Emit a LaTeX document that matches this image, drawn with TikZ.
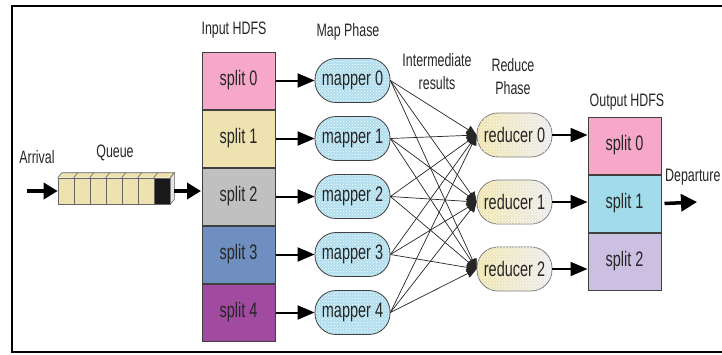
\documentclass[tikz,border=0pt]{standalone}
\usepackage{fontspec}
\setmainfont[FakeStretch=0.69]{Liberation Sans}
\usetikzlibrary{arrows.meta,patterns,positioning,calc}
\definecolor{pinkblk}{HTML}{F7A8C8}
\definecolor{beigeblk}{HTML}{EDE2B0}
\definecolor{grayblk}{HTML}{C0C0C0}
\definecolor{blueblk}{HTML}{6E8FBF}
\definecolor{purpleblk}{HTML}{A04AA0}
\definecolor{cyanblk}{HTML}{A2DCEA}
\definecolor{lilacblk}{HTML}{CBBFE2}
\definecolor{mapfill}{HTML}{B0DEEE}
\definecolor{redfill}{HTML}{F0E4AC}
\definecolor{edgegray}{HTML}{404040}
\definecolor{txtgray}{HTML}{262626}
\tikzset{
  splitbox/.style={draw=edgegray, line width=1pt, minimum width=73pt, minimum height=57pt,
    inner sep=0pt, text=txtgray, font=\fontsize{21}{23}\selectfont},
  mapbox/.style={draw=edgegray, line width=0.8pt, rounded corners=21pt, minimum width=75pt,
    minimum height=44pt, inner sep=0pt, text=txtgray, font=\fontsize{21}{23}\selectfont,
    preaction={fill=mapfill}, pattern=crosshatch dots, pattern color=white},
  redbox/.style={draw=edgegray!70, line width=0.8pt, rounded corners=21pt, minimum width=75pt,
    minimum height=44pt, inner sep=0pt, text=txtgray, font=\fontsize{21}{23}\selectfont,
    left color=redfill, right color=gray!15, postaction={pattern=crosshatch dots, pattern color=white}},
  cell/.style={draw=edgegray!80, line width=0.6pt, fill=beigeblk, minimum width=16pt,
    minimum height=26pt, inner sep=0pt},
  head/.style={font=\fontsize{18}{23}\selectfont, text=txtgray, align=center, inner sep=0pt},
  bigarrow/.style={line width=2pt, -{Triangle[length=17pt,width=14pt]}},
  fatarrow/.style={line width=3.5pt, -{Triangle[length=14pt,width=16pt]}},
  midline/.style={line width=0.7pt, draw=black!85, -{Triangle[length=10pt,width=9pt]}}
}
\begin{document}
\begin{tikzpicture}[x=1pt, y=-1pt]
  \clip (0,0) rectangle (722,354);
  \useasboundingbox (0,0) rectangle (722,354);
  \fill[white] (0,0) rectangle (722,354);
  % frame
  \draw[line width=1.5pt] (12,6) rectangle (740,352);

  % queue
  \foreach \i in {1,...,6}
    \node[cell] (q\i) at ({50+16*\i},191) {};
  \node[cell, fill=black!90] (q7) at (162,191) {};
  \foreach \i in {1,...,7}
    \draw[edgegray!80, line width=0.6pt, fill=beigeblk]
      (q\i.north west) -- ++(4,-5) -- ($(q\i.north east)+(4,-5)$) -- (q\i.north east);
  \draw[edgegray!80, line width=0.6pt, fill=gray!20]
    (q7.north east) -- ++(4,-5) -- ($(q7.south east)+(4,-5)$) -- (q7.south east) -- cycle;
  \node[head] (arrlbl) at (37,157) {Arrival};
  \node[head] (qlbl) at (115,153) {Queue};
  \coordinate (arr) at (27,191);
  \coordinate (qout) at (201,191);
  \draw[fatarrow] (arr) -- (q1.west);
  \draw[fatarrow] ([xshift=4pt]q7.east) -- (qout);

  % input HDFS
  \node[head] (inlbl) at (234,30) {Input HDFS};
  \node[splitbox, fill=pinkblk] (in0) at (238.5,80.5) {split 0};
  \node[splitbox, fill=beigeblk, below=0pt of in0] (in1) {split 1};
  \node[splitbox, fill=grayblk, below=0pt of in1] (in2) {split 2};
  \node[splitbox, fill=blueblk, below=0pt of in2] (in3) {split 3};
  \node[splitbox, fill=purpleblk, below=0pt of in3] (in4) {split 4};

  % map phase
  \node[head] (maplbl) at (348,32) {Map Phase};
  \foreach \i in {0,...,4} {
    \node[mapbox] (map\i) at ($(in\i)+(114,0)$) {mapper \i};
    \draw[bigarrow] (in\i.east) -- (map\i.west);
  }

  % reduce phase
  \node[head] (midlbl) at (437,72) {Intermediate\\results};
  \node[head] (redlbl) at (513,77) {Reduce\\Phase};
  \node[redbox] (red0) at (514.5,135) {reducer 0};
  \node[redbox] (red1) at (514.5,202) {reducer 1};
  \node[redbox] (red2) at (514.5,269) {reducer 2};
  \foreach \m in {0,...,4}
    \foreach \r in {0,1,2}
      \draw[midline] (map\m.east) -- (red\r.west);

  % output HDFS
  \node[head] (outlbl) at (627,102) {Output HDFS};
  \node[splitbox, fill=pinkblk] (out0) at (624.5,145.5) {split 0};
  \node[splitbox, fill=cyanblk, below=0pt of out0] (out1) {split 1};
  \node[splitbox, fill=lilacblk, below=0pt of out1] (out2) {split 2};
  \foreach \r in {0,1,2}
    \draw[bigarrow] (red\r.east) -- (red\r.east -| out\r.west);
  \node[head, anchor=west] (deplbl) at (665,177) {Departure};
  \coordinate (dep) at (697,202);
  \draw[fatarrow, -{Triangle[length=16pt,width=17pt]}] ([xshift=3pt]out1.east) -- (dep);
\end{tikzpicture}
\end{document}
